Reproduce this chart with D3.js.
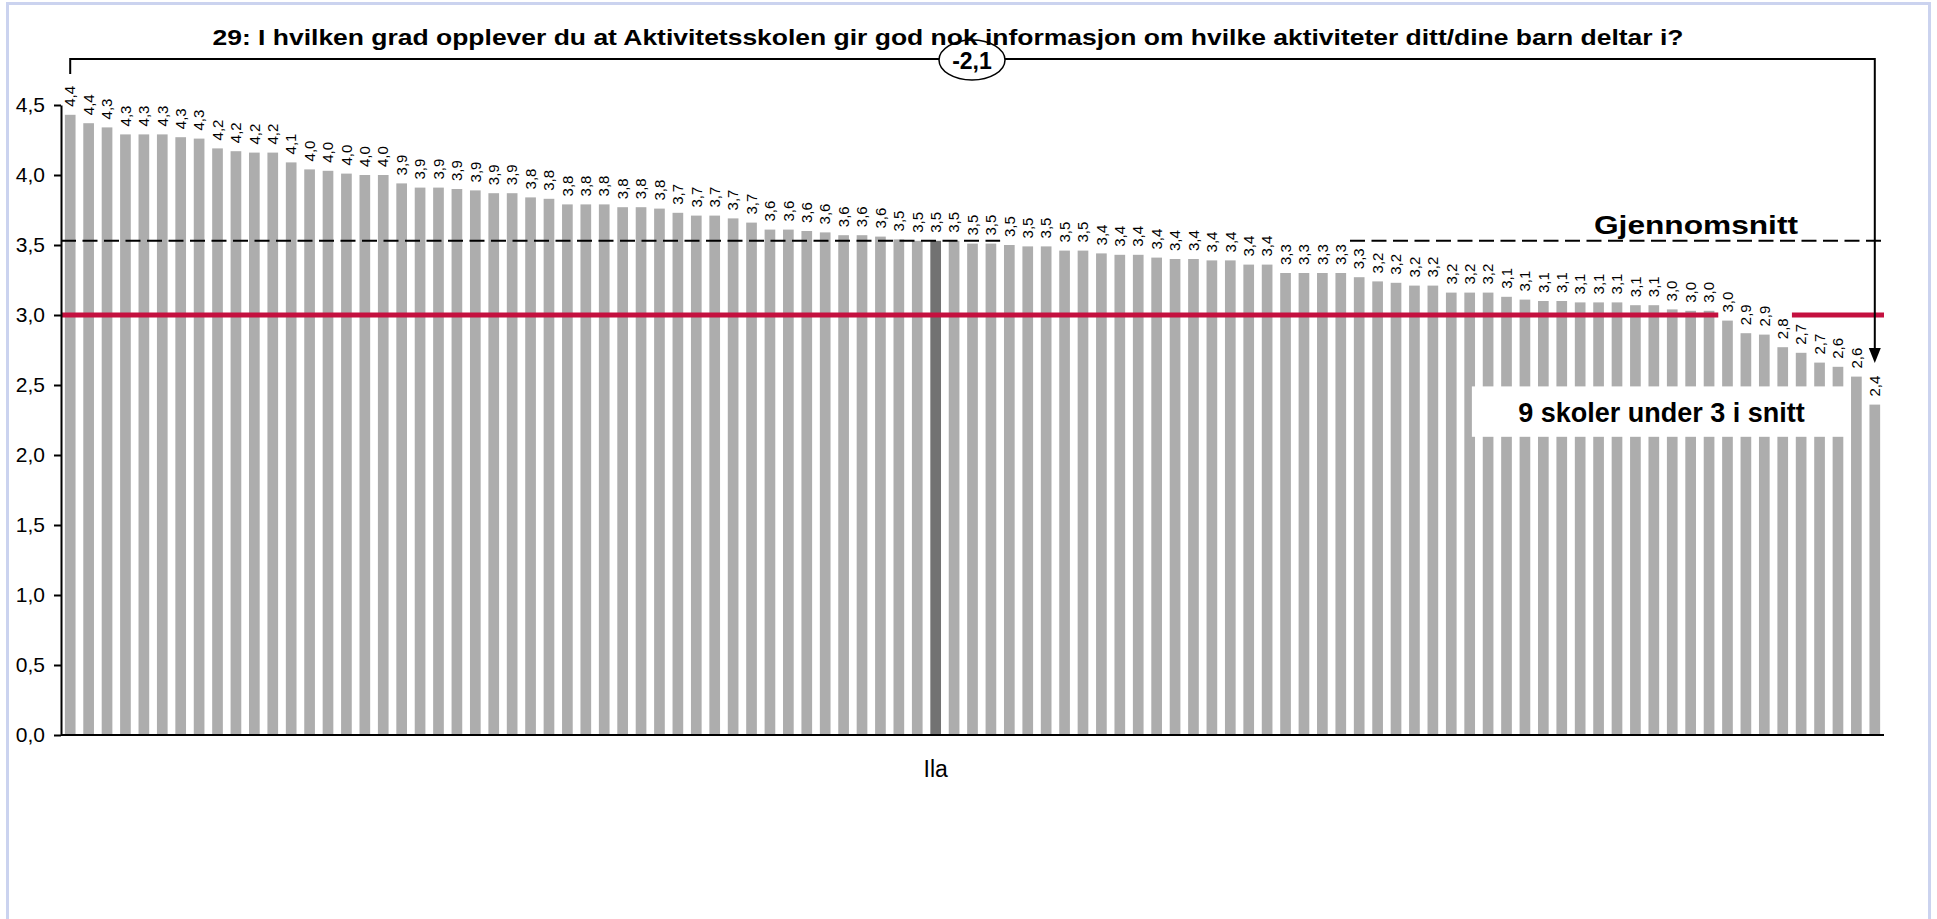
<!DOCTYPE html>
<html><head><meta charset="utf-8">
<script src="https://cdn.jsdelivr.net/npm/d3@7"></script>
<style>
html,body{margin:0;padding:0;background:#fff;}
svg{display:block;}
text{font-family:"Liberation Sans", Arial, sans-serif;fill:#000;}
</style></head><body>
<svg id="chart" width="1937" height="919"></svg>
<script>
// ---------------- data ----------------
const title = "29: I hvilken grad opplever du at Aktivitetsskolen gir god nok informasjon om hvilke aktiviteter ditt/dine barn deltar i?";
const values = [
  4.43, 4.37, 4.34, 4.29, 4.29, 4.29, 4.27, 4.26, 4.19, 4.17,
  4.16, 4.16, 4.09, 4.04, 4.03, 4.01, 4.00, 4.00, 3.94, 3.91,
  3.91, 3.90, 3.89, 3.87, 3.87, 3.84, 3.83, 3.79, 3.79, 3.79,
  3.77, 3.77, 3.76, 3.73, 3.71, 3.71, 3.69, 3.66, 3.61, 3.61,
  3.60, 3.59, 3.57, 3.57, 3.56, 3.54, 3.53, 3.53, 3.53, 3.51,
  3.51, 3.50, 3.49, 3.49, 3.46, 3.46, 3.44, 3.43, 3.43, 3.41,
  3.40, 3.40, 3.39, 3.39, 3.36, 3.36, 3.30, 3.30, 3.30, 3.30,
  3.27, 3.24, 3.23, 3.21, 3.21, 3.16, 3.16, 3.16, 3.13, 3.11,
  3.10, 3.10, 3.09, 3.09, 3.09, 3.07, 3.07, 3.04, 3.03, 3.03,
  2.96, 2.87, 2.86, 2.77, 2.73, 2.66, 2.63, 2.56, 2.36
];
const highlightIndex = 47;
const highlightLabel = "Ila";
const average = 3.53;
const averageLabel = "Gjennomsnitt";
const threshold = 3.0;
const thresholdNote = "9 skoler under 3 i snitt";
const diffLabel = "-2,1";
const yTicks = [0, 0.5, 1, 1.5, 2, 2.5, 3, 3.5, 4, 4.5];
const yTickLabels = ["0,0","0,5","1,0","1,5","2,0","2,5","3,0","3,5","4,0","4,5"];

// ---------------- layout ----------------
const svg = d3.select("#chart");
const X0 = 61, X1 = 1884, Y0 = 735, Y1 = 105;
const barColor = "#adadad", hiColor = "#727272", redColor = "#c4103f";
const fmt = v => d3.format(".1f")(v).replace(".", ",");

const x = d3.scaleBand().domain(d3.range(values.length)).range([X0, X1])
  .paddingInner(0.42).paddingOuter(0.21);
const y = d3.scaleLinear().domain([0, 4.5]).range([Y0, Y1]);
const bw = x.bandwidth(), step = x.step();
const cx = i => x(i) + bw / 2;
const gapAfter = i => x(i) + bw + (step - bw) / 2;

// chart border
svg.append("rect").attr("x", 7.5).attr("y", 3.5).attr("width", 1922).attr("height", 1000)
  .attr("fill", "none").attr("stroke", "#cbd3ef").attr("stroke-width", 3);

// bars
svg.append("g").selectAll("rect").data(values).join("rect")
  .attr("x", (d, i) => x(i)).attr("y", d => y(d))
  .attr("width", bw).attr("height", d => y(0) - y(d))
  .attr("fill", (d, i) => i === highlightIndex ? hiColor : barColor);

// threshold red line (two segments)
const redY = y(threshold);
const firstBelow = values.findIndex(v => v < threshold);
[[X0, gapAfter(firstBelow - 1)], [gapAfter(firstBelow + 3), X1]].forEach(([a, b]) => {
  svg.append("line").attr("x1", a).attr("x2", b).attr("y1", redY).attr("y2", redY)
    .attr("stroke", redColor).attr("stroke-width", 5);
});

// average dashed line (two visible segments)
const avgY = y(average);
[[X0, gapAfter(50)], [gapAfter(69), X1]].forEach(([a, b]) => {
  svg.append("line").attr("x1", a).attr("x2", b).attr("y1", avgY).attr("y2", avgY)
    .attr("stroke", "#000").attr("stroke-width", 2).attr("stroke-dasharray", "15,6.5");
});

// axes
const yAxis = d3.axisLeft(y).tickValues(yTicks).tickFormat((d, i) => yTickLabels[i])
  .tickSize(7).tickSizeOuter(0).tickPadding(9);
const gy = svg.append("g").attr("transform", `translate(${X0},0)`).call(yAxis);
gy.selectAll("text").style("font-size", "21px").attr("fill", "#000");
gy.selectAll("line,path").attr("stroke", "#000").attr("stroke-width", 2);

const xAxis = d3.axisBottom(x).tickValues([highlightIndex]).tickFormat(() => highlightLabel)
  .tickSize(0).tickSizeOuter(0).tickPadding(26);
const gx = svg.append("g").attr("transform", `translate(0,${Y0})`).call(xAxis);
gx.selectAll("text").style("font-size", "23px").attr("fill", "#000");
gx.selectAll("path").attr("stroke", "#000").attr("stroke-width", 2);
gx.select(".domain").attr("d", `M${X0},0H${X1}`);

// value labels
svg.append("g").selectAll("text").data(values).join("text")
  .attr("transform", (d, i) => `translate(${cx(i)},${y(d) - 8}) rotate(-90)`)
  .attr("dy", "0.35em").attr("text-anchor", "start")
  .style("font-size", "15px").text(d => fmt(d));

// "Gjennomsnitt" label
svg.append("text").attr("x", 1594).attr("y", 234)
  .attr("textLength", 204).attr("lengthAdjust", "spacingAndGlyphs")
  .style("font-size", "25px").style("font-weight", "bold").text(averageLabel);

// white note box
const boxX0 = gapAfter(76) - 7, boxX1 = gapAfter(96);
const boxTop = y(2.49), boxBot = y(2.13);
svg.append("rect").attr("x", boxX0).attr("y", boxTop).attr("width", boxX1 - boxX0)
  .attr("height", boxBot - boxTop).attr("fill", "#fff");
svg.append("text").attr("x", (boxX0 + boxX1) / 2 + 2).attr("y", 422).attr("text-anchor", "middle")
  .style("font-size", "27px").style("font-weight", "bold").text(thresholdNote);

// bracket with arrow
const bl = cx(0), br = cx(values.length - 1), by = 59, tipY = 363;
svg.append("path").attr("d", `M${bl},74V${by}H${br}V${tipY - 12}`)
  .attr("fill", "none").attr("stroke", "#000").attr("stroke-width", 2);
svg.append("path").attr("d", `M${br - 6},${tipY - 15}L${br + 6},${tipY - 15}L${br},${tipY}Z`)
  .attr("fill", "#000");

// ellipse with difference
svg.append("ellipse").attr("cx", 972).attr("cy", 60).attr("rx", 33).attr("ry", 20)
  .attr("fill", "#fff").attr("stroke", "#000").attr("stroke-width", 1.5);

// title
svg.append("text").attr("x", 948).attr("y", 45).attr("text-anchor", "middle")
  .attr("textLength", 1471).attr("lengthAdjust", "spacingAndGlyphs")
  .style("font-size", "22px").style("font-weight", "bold").text(title);

svg.append("text").attr("x", 972).attr("y", 61).attr("dy", "0.36em").attr("text-anchor", "middle")
  .style("font-size", "23px").style("font-weight", "bold").text(diffLabel);
</script>
</body></html>
